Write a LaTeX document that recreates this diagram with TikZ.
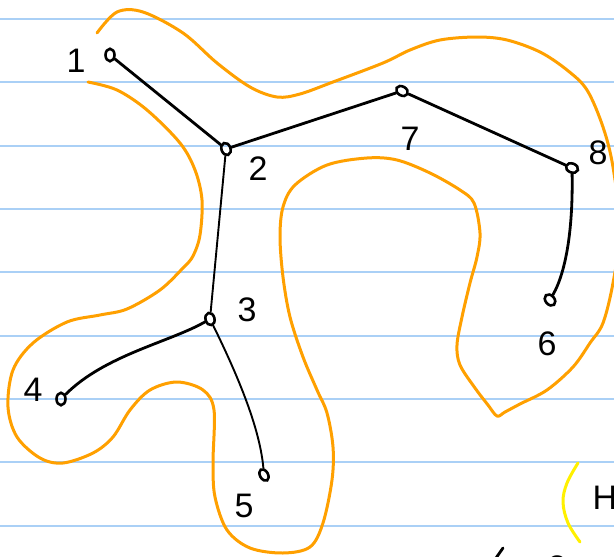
\documentclass[tikz,border=0pt]{standalone}
\usepackage{fontspec}
\setmainfont{Liberation Sans}
\usetikzlibrary{shapes.geometric}
\definecolor{ruled}{RGB}{170,208,246}
\definecolor{blob}{RGB}{255,160,0}
\definecolor{hl}{RGB}{255,240,0}
\tikzset{
  vert/.style={draw, ellipse, line width=2.6pt, inner sep=0pt, minimum width=9pt, minimum height=12.5pt},
  lbl/.style={font=\fontsize{34}{34}\selectfont, inner sep=0pt},
  edge/.style={line width=2.8pt, line cap=round},
  thinedge/.style={line width=1.9pt, line cap=round},
  ruleline/.style={ruled, line width=2.2pt},
  blobline/.style={blob, line width=3pt, line cap=round, line join=round},
}
\begin{document}
\begin{tikzpicture}[x=1pt,y=-1pt]
\useasboundingbox (0,0) rectangle (614,557);
\clip (0,0) rectangle (614,557);
\fill[white] (0,0) rectangle (614,557);
% ruled paper
\foreach \k in {0,...,8} {
  \draw[ruleline] (0,{19+63.33*\k}) -- (614,{19+63.33*\k});
}
% orange blob
\draw[blobline] plot[smooth, tension=0.55] coordinates {
 (88,82) (117,90) (147,110) (180,143) (195,170) (202,200) (200,235) (193,256) (183,268)
 (160,290) (127,309) (100,315) (67,322) (33,343) (13,370) (8,407) (17,437) (40,458)
 (63,463) (93,453) (113,437) (130,410) (150,390) (177,382) (203,390) (214,410)
 (213,463) (215,497) (227,530) (250,548) (283,553) (310,547) (323,523) (332,480)
 (333,447) (327,413) (317,390) (303,357) (290,317) (283,277) (280,237) (283,207)
 (295,185) (327,165) (367,158) (397,160) (430,173) (460,190) (474,203) (480,233)
 (477,257) (470,283) (462,317) (457,345) (460,365) (475,388) (488,405) (497,416)
 (505,412) (520,404) (547,390) (573,367) (590,343) (603,323) (613,283) (620,230)
 (613,167) (603,127) (587,90) (567,70) (540,52) (507,40) (477,37) (440,40) (410,50)
 (383,63) (333,82) (300,94) (277,97) (250,87) (217,63) (183,33) (143,12) (117,12) (97,33)
};
% yellow arc
\draw[hl, line width=3pt, line cap=round] plot[smooth, tension=0.6] coordinates {
 (578,463) (567,483) (563,502) (568,523) (580,542)
};
% vertices
\node[vert] (n1) at (110,55) {};
\node[vert, rotate=20] (n2) at (226,149) {};
\node[vert, rotate=60] (n7) at (402,91) {};
\node[vert, rotate=70] (n8) at (572,168) {};
\node[vert, rotate=40] (n6) at (550,300) {};
\node[vert, rotate=15] (n3) at (210,319) {};
\node[vert] (n4) at (61,399) {};
\node[vert, rotate=30, minimum width=8pt] (n5) at (264,475) {};
% labels
\node[lbl] (l1) at (76,61) {1};
\node[lbl] (l2) at (258,169) {2};
\node[lbl] (l7) at (410,139) {7};
\node[lbl] (l8) at (598,153) {8};
\node[lbl] (l6) at (547,344) {6};
\node[lbl] (l3) at (247,310) {3};
\node[lbl] (l4) at (33,390) {4};
\node[lbl] (l5) at (244,506) {5};
\node[lbl] (lH) at (605,498) {H};
\node[lbl] (lb2) at (557,568) {2};
\coordinate (s1) at (503,548);
\coordinate (s2) at (496,558);
\draw[edge] (s1) -- (s2);
% edges
\draw[edge] (n1) -- (n2);
\draw[edge] (n2) -- (n7);
\draw[edge] (n7) -- (n8);
\draw[edge] (n8) .. controls (573,225) and (567,270) .. (n6);
\draw[thinedge] (n2) -- (n3);
\draw[edge] (n3) .. controls (170,342) and (105,355) .. (n4);
\draw[thinedge] (n3) .. controls (240,380) and (260,430) .. (n5);
\end{tikzpicture}
\end{document}
